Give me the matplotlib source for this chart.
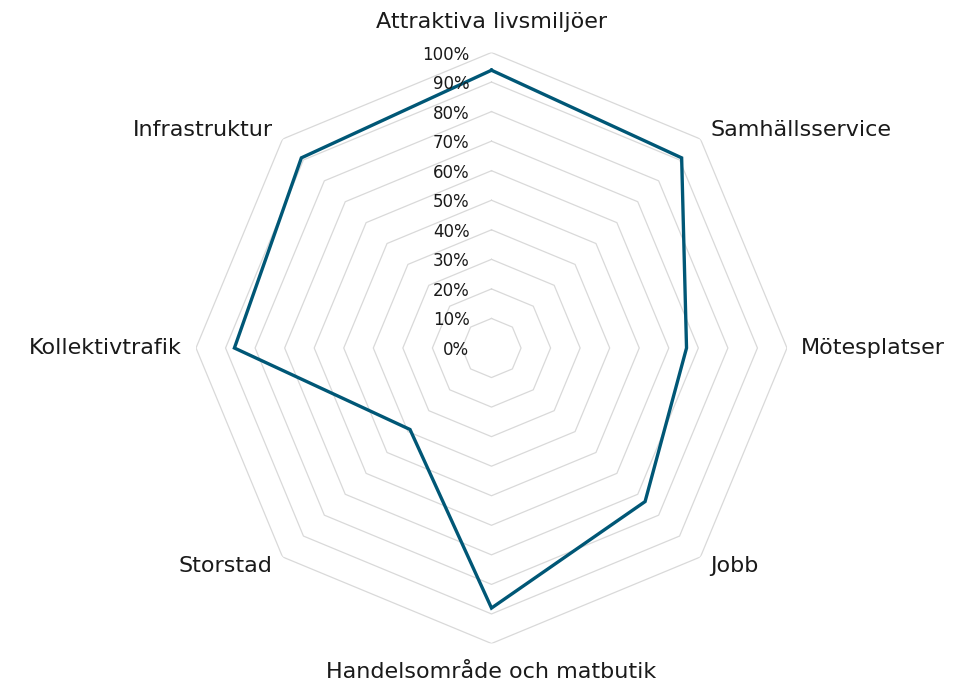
import numpy as np
import matplotlib
matplotlib.use("Agg")
import matplotlib.pyplot as plt
from matplotlib.transforms import offset_copy

categories = ["Attraktiva livsmiljöer", "Samhällsservice", "Mötesplatser", "Jobb",
              "Handelsområde och matbutik", "Storstad", "Kollektivtrafik", "Infrastruktur"]
values = [94, 91, 66, 73.5, 88, 39, 87, 91]
levels = [10, 20, 30, 40, 50, 60, 70, 80, 90, 100]
tick_labels = ["0%", "10%", "20%", "30%", "40%", "50%", "60%", "70%", "80%", "90%", "100%"]

plt.rcParams['font.family'] = ['DejaVu Sans']
LINE = "#005776"
GRID = "#d9d9d9"
TXT = "#1a1a1a"

fig = plt.figure(figsize=(9.68, 6.83), dpi=100)
cx, cy, R = 491.5, 683 - 348, 295.5
ax = fig.add_axes([(cx - R) / 968, (cy - R) / 683, 2 * R / 968, 2 * R / 683], projection='polar')
ax.set_theta_offset(np.pi / 2)
ax.set_theta_direction(-1)
ax.set_ylim(0, 100)
ax.grid(False)
ax.set_xticks([])
ax.set_yticks([])
ax.spines['polar'].set_visible(False)
ax.patch.set_visible(False)

n = len(categories)
theta = np.arange(n) * 2 * np.pi / n
theta_c = np.append(theta, theta[0])

for lv in levels:
    ax.plot(theta_c, [lv] * (n + 1), color=GRID, lw=0.9, zorder=1)

vals_c = values + values[:1]
ax.plot(theta_c, vals_c, color=LINE, lw=2.4, zorder=3, solid_joinstyle='miter')

# radial tick labels
tr = offset_copy(ax.transData, fig=fig, x=-22, y=-2, units='dots')
for i, lab in enumerate(tick_labels):
    ax.text(0, i * 10, lab, transform=tr, ha='right', va='center', fontsize=12, color=TXT, zorder=4)

# category labels
offsets = [(0, 31, 'center'), (10, 9, 'left'), (14, 0, 'left'), (10, -9, 'left'),
           (0, -28, 'center'), (-10, -9, 'right'), (-14, 0, 'right'), (-10, 9, 'right')]
for t, lab, (dx, dy, ha) in zip(theta, categories, offsets):
    trc = offset_copy(ax.transData, fig=fig, x=dx, y=dy, units='dots')
    ax.text(t, 100, lab, transform=trc, ha=ha, va='center', fontsize=16, color=TXT)

fig.savefig("out.png", dpi=100)
